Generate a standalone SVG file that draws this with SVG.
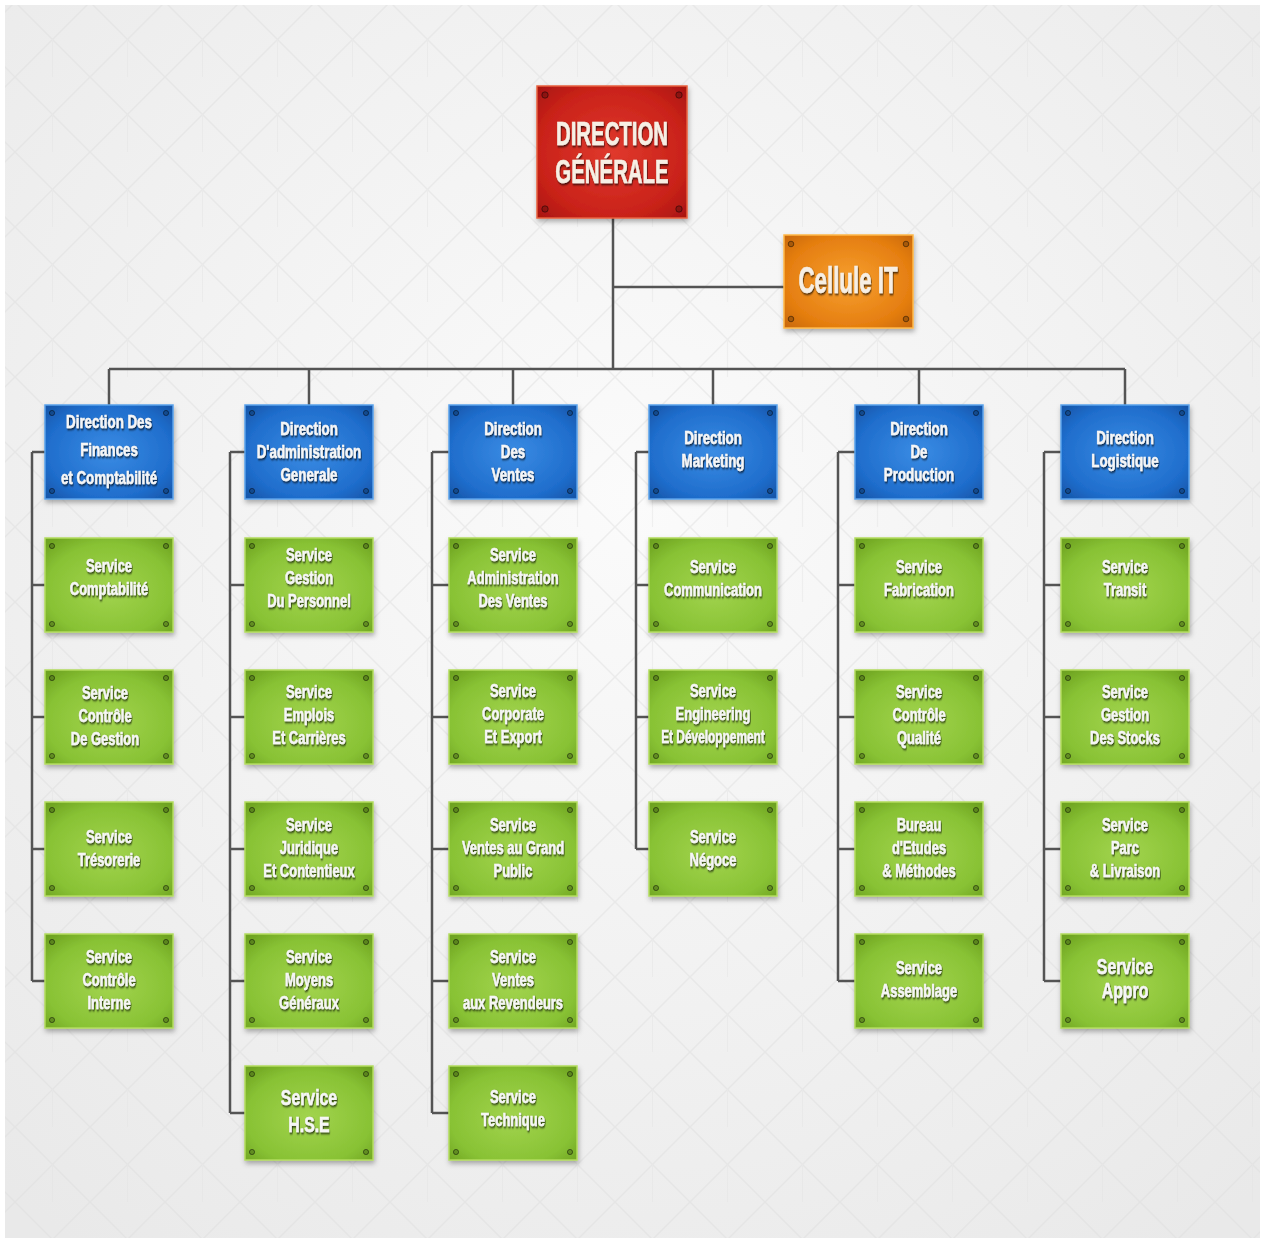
<svg xmlns="http://www.w3.org/2000/svg" xmlns:xlink="http://www.w3.org/1999/xlink" width="1265" height="1242" viewBox="0 0 1265 1242">
<defs>
<radialGradient id="bg" cx="50%" cy="40%" r="75%"><stop offset="0" stop-color="#fbfbfb"/><stop offset="1" stop-color="#e9e9e9"/></radialGradient>
<pattern id="lat" width="75" height="75" patternUnits="userSpaceOnUse" x="15" y="2">
<path d="M0 0L75 75M75 0L0 75" stroke="#dcdcdc" stroke-width="1.5" fill="none"/>
<path d="M37.5 37.5V75" stroke="#e2e2e2" stroke-width="1.2" fill="none"/>
</pattern>
<radialGradient id="gRed" cx="50%" cy="50%" r="70%"><stop offset="0" stop-color="#e0392d"/><stop offset="0.7" stop-color="#c92219"/><stop offset="1" stop-color="#a81510"/></radialGradient>
<radialGradient id="gOr" cx="50%" cy="50%" r="70%"><stop offset="0" stop-color="#f7a030"/><stop offset="0.7" stop-color="#e57e10"/><stop offset="1" stop-color="#c8680a"/></radialGradient>
<radialGradient id="gBlue" cx="50%" cy="50%" r="70%"><stop offset="0" stop-color="#3a8ce4"/><stop offset="0.7" stop-color="#1f6dcc"/><stop offset="1" stop-color="#1554a6"/></radialGradient>
<radialGradient id="gGreen" cx="50%" cy="55%" r="70%"><stop offset="0" stop-color="#a2d44e"/><stop offset="0.7" stop-color="#88c234"/><stop offset="1" stop-color="#6ea321"/></radialGradient>
<filter id="sh" x="-10%" y="-10%" width="125%" height="130%"><feDropShadow dx="1" dy="3" stdDeviation="2.5" flood-color="#000" flood-opacity="0.3"/></filter>
<filter id="ts" x="-10%" y="-30%" width="125%" height="170%"><feDropShadow dx="1" dy="1.5" stdDeviation="1" flood-color="#000" flood-opacity="0.8"/></filter>
<g id="scr"><circle cx="7" cy="8" r="2.6"/><circle cx="121" cy="8" r="2.6"/><circle cx="7" cy="86" r="2.6"/><circle cx="121" cy="86" r="2.6"/></g>
<style>
.nb{fill:url(#gBlue);stroke:#5aa2ec;stroke-width:1.5;filter:url(#sh)}
.ng{fill:url(#gGreen);stroke:#b2dc5e;stroke-width:1.5;filter:url(#sh)}
.sc{fill:rgba(0,0,0,0.22);stroke:rgba(0,0,0,0.45);stroke-width:1}
.t{font-family:"Liberation Sans",Arial,sans-serif;font-weight:bold;font-size:18px;fill:#f6f6f6;stroke:#f6f6f6;stroke-width:0.5;text-anchor:middle;filter:url(#ts)}
.tb{font-size:22px}
.tt{font-family:"Liberation Sans",Arial,sans-serif;font-weight:bold;fill:#f7efe4;stroke:#f7efe4;stroke-width:0.6;text-anchor:middle;filter:url(#ts)}
.ln{stroke:#545454;stroke-width:2.5;fill:none}
</style>
</defs>
<rect width="1265" height="1242" fill="#ffffff"/>
<rect x="5" y="5" width="1255" height="1233" fill="url(#bg)"/>
<rect x="5" y="5" width="1255" height="1233" fill="url(#lat)" opacity="0.45"/>

<g id="connectors" class="ln">
<path d="M613 218V369M613 287H784M109 369H1125"/>
<path d="M109 369V405M309 369V405M513 369V405M713 369V405M919 369V405M1125 369V405"/>
<path d="M32 452V981M32 452H45M32 585H45M32 717H45M32 849H45M32 981H45"/>
<path d="M230 452V1113M230 452H245M230 585H245M230 717H245M230 849H245M230 981H245M230 1113H245"/>
<path d="M432 452V1113M432 452H449M432 585H449M432 717H449M432 849H449M432 981H449M432 1113H449"/>
<path d="M636 452V849M636 452H649M636 585H649M636 717H649M636 849H649"/>
<path d="M838 452V981M838 452H855M838 585H855M838 717H855M838 849H855M838 981H855"/>
<path d="M1044 452V981M1044 452H1061M1044 585H1061M1044 717H1061M1044 849H1061M1044 981H1061"/>
</g>

<g id="direction-generale">
<rect x="537" y="86" width="150" height="132" fill="url(#gRed)" stroke="#e8603f" stroke-width="1.5" filter="url(#sh)"/>
<g class="sc"><circle cx="545" cy="95" r="3.2"/><circle cx="679" cy="95" r="3.2"/><circle cx="545" cy="209" r="3.2"/><circle cx="679" cy="209" r="3.2"/></g>
<text class="tt" font-size="34" transform="translate(612 145) scale(.6 1)">DIRECTION</text>
<text class="tt" font-size="34" transform="translate(612 183) scale(.6 1)">GÉNÉRALE</text>
</g>

<g id="cellule-it">
<rect x="784" y="235" width="129" height="93" fill="url(#gOr)" stroke="#ffb848" stroke-width="1.5" filter="url(#sh)"/>
<g class="sc"><circle cx="791" cy="244" r="2.8"/><circle cx="906" cy="244" r="2.8"/><circle cx="791" cy="319" r="2.8"/><circle cx="906" cy="319" r="2.8"/></g>
<text class="tt" font-size="36" transform="translate(848 293) scale(.62 1)">Cellule IT</text>
</g>

<g id="dir-finances">
<rect class="nb" x="45" y="405" width="128" height="94"/><use href="#scr" x="45" y="405" class="sc"/>
<text class="t" transform="translate(109 428) scale(.74 1)">Direction Des</text>
<text class="t" transform="translate(109 456) scale(.74 1)">Finances</text>
<text class="t" transform="translate(109 484) scale(.74 1)">et Comptabilité</text>
</g>
<g id="dir-administration">
<rect class="nb" x="245" y="405" width="128" height="94"/><use href="#scr" x="245" y="405" class="sc"/>
<text class="t" transform="translate(309 435) scale(.74 1)">Direction</text>
<text class="t" transform="translate(309 458) scale(.74 1)">D'administration</text>
<text class="t" transform="translate(309 481) scale(.74 1)">Generale</text>
</g>
<g id="dir-ventes">
<rect class="nb" x="449" y="405" width="128" height="94"/><use href="#scr" x="449" y="405" class="sc"/>
<text class="t" transform="translate(513 435) scale(.74 1)">Direction</text>
<text class="t" transform="translate(513 458) scale(.74 1)">Des</text>
<text class="t" transform="translate(513 481) scale(.74 1)">Ventes</text>
</g>
<g id="dir-marketing">
<rect class="nb" x="649" y="405" width="128" height="94"/><use href="#scr" x="649" y="405" class="sc"/>
<text class="t" transform="translate(713 444) scale(.74 1)">Direction</text>
<text class="t" transform="translate(713 467) scale(.74 1)">Marketing</text>
</g>
<g id="dir-production">
<rect class="nb" x="855" y="405" width="128" height="94"/><use href="#scr" x="855" y="405" class="sc"/>
<text class="t" transform="translate(919 435) scale(.74 1)">Direction</text>
<text class="t" transform="translate(919 458) scale(.74 1)">De</text>
<text class="t" transform="translate(919 481) scale(.74 1)">Production</text>
</g>
<g id="dir-logistique">
<rect class="nb" x="1061" y="405" width="128" height="94"/><use href="#scr" x="1061" y="405" class="sc"/>
<text class="t" transform="translate(1125 444) scale(.74 1)">Direction</text>
<text class="t" transform="translate(1125 467) scale(.74 1)">Logistique</text>
</g>

<!-- column 1 -->
<g id="srv-comptabilite">
<rect class="ng" x="45" y="538" width="128" height="94"/><use href="#scr" x="45" y="538" class="sc"/>
<text class="t" transform="translate(109 572) scale(.72 1)">Service</text>
<text class="t" transform="translate(109 595) scale(.72 1)">Comptabilité</text>
</g>
<g id="srv-controle-gestion">
<rect class="ng" x="45" y="670" width="128" height="94"/><use href="#scr" x="45" y="670" class="sc"/>
<text class="t" transform="translate(105 699) scale(.72 1)">Service</text>
<text class="t" transform="translate(105 722) scale(.72 1)">Contrôle</text>
<text class="t" transform="translate(105 745) scale(.72 1)">De Gestion</text>
</g>
<g id="srv-tresorerie">
<rect class="ng" x="45" y="802" width="128" height="94"/><use href="#scr" x="45" y="802" class="sc"/>
<text class="t" transform="translate(109 843) scale(.72 1)">Service</text>
<text class="t" transform="translate(109 866) scale(.72 1)">Trésorerie</text>
</g>
<g id="srv-controle-interne">
<rect class="ng" x="45" y="934" width="128" height="94"/><use href="#scr" x="45" y="934" class="sc"/>
<text class="t" transform="translate(109 963) scale(.72 1)">Service</text>
<text class="t" transform="translate(109 986) scale(.72 1)">Contrôle</text>
<text class="t" transform="translate(109 1009) scale(.72 1)">Interne</text>
</g>

<!-- column 2 -->
<g id="srv-gestion-personnel">
<rect class="ng" x="245" y="538" width="128" height="94"/><use href="#scr" x="245" y="538" class="sc"/>
<text class="t" transform="translate(309 561) scale(.72 1)">Service</text>
<text class="t" transform="translate(309 584) scale(.72 1)">Gestion</text>
<text class="t" transform="translate(309 607) scale(.72 1)">Du Personnel</text>
</g>
<g id="srv-emplois">
<rect class="ng" x="245" y="670" width="128" height="94"/><use href="#scr" x="245" y="670" class="sc"/>
<text class="t" transform="translate(309 698) scale(.72 1)">Service</text>
<text class="t" transform="translate(309 721) scale(.72 1)">Emplois</text>
<text class="t" transform="translate(309 744) scale(.72 1)">Et Carrières</text>
</g>
<g id="srv-juridique">
<rect class="ng" x="245" y="802" width="128" height="94"/><use href="#scr" x="245" y="802" class="sc"/>
<text class="t" transform="translate(309 831) scale(.72 1)">Service</text>
<text class="t" transform="translate(309 854) scale(.72 1)">Juridique</text>
<text class="t" transform="translate(309 877) scale(.72 1)">Et Contentieux</text>
</g>
<g id="srv-moyens-generaux">
<rect class="ng" x="245" y="934" width="128" height="94"/><use href="#scr" x="245" y="934" class="sc"/>
<text class="t" transform="translate(309 963) scale(.72 1)">Service</text>
<text class="t" transform="translate(309 986) scale(.72 1)">Moyens</text>
<text class="t" transform="translate(309 1009) scale(.72 1)">Généraux</text>
</g>
<g id="srv-hse">
<rect class="ng" x="245" y="1066" width="128" height="94"/><use href="#scr" x="245" y="1066" class="sc"/>
<text class="t tb" transform="translate(309 1105) scale(.72 1)">Service</text>
<text class="t tb" transform="translate(309 1132) scale(.72 1)">H.S.E</text>
</g>

<!-- column 3 -->
<g id="srv-admin-ventes">
<rect class="ng" x="449" y="538" width="128" height="94"/><use href="#scr" x="449" y="538" class="sc"/>
<text class="t" transform="translate(513 561) scale(.72 1)">Service</text>
<text class="t" transform="translate(513 584) scale(.72 1)">Administration</text>
<text class="t" transform="translate(513 607) scale(.72 1)">Des Ventes</text>
</g>
<g id="srv-corporate">
<rect class="ng" x="449" y="670" width="128" height="94"/><use href="#scr" x="449" y="670" class="sc"/>
<text class="t" transform="translate(513 697) scale(.72 1)">Service</text>
<text class="t" transform="translate(513 720) scale(.72 1)">Corporate</text>
<text class="t" transform="translate(513 743) scale(.72 1)">Et Export</text>
</g>
<g id="srv-grand-public">
<rect class="ng" x="449" y="802" width="128" height="94"/><use href="#scr" x="449" y="802" class="sc"/>
<text class="t" transform="translate(513 831) scale(.72 1)">Service</text>
<text class="t" transform="translate(513 854) scale(.72 1)">Ventes au Grand</text>
<text class="t" transform="translate(513 877) scale(.72 1)">Public</text>
</g>
<g id="srv-revendeurs">
<rect class="ng" x="449" y="934" width="128" height="94"/><use href="#scr" x="449" y="934" class="sc"/>
<text class="t" transform="translate(513 963) scale(.72 1)">Service</text>
<text class="t" transform="translate(513 986) scale(.72 1)">Ventes</text>
<text class="t" transform="translate(513 1009) scale(.72 1)">aux Revendeurs</text>
</g>
<g id="srv-technique">
<rect class="ng" x="449" y="1066" width="128" height="94"/><use href="#scr" x="449" y="1066" class="sc"/>
<text class="t" transform="translate(513 1103) scale(.72 1)">Service</text>
<text class="t" transform="translate(513 1126) scale(.72 1)">Technique</text>
</g>

<!-- column 4 -->
<g id="srv-communication">
<rect class="ng" x="649" y="538" width="128" height="94"/><use href="#scr" x="649" y="538" class="sc"/>
<text class="t" transform="translate(713 573) scale(.72 1)">Service</text>
<text class="t" transform="translate(713 596) scale(.72 1)">Communication</text>
</g>
<g id="srv-engineering">
<rect class="ng" x="649" y="670" width="128" height="94"/><use href="#scr" x="649" y="670" class="sc"/>
<text class="t" transform="translate(713 697) scale(.72 1)">Service</text>
<text class="t" transform="translate(713 720) scale(.72 1)">Engineering</text>
<text class="t" transform="translate(713 743) scale(.66 1)">Et Développement</text>
</g>
<g id="srv-negoce">
<rect class="ng" x="649" y="802" width="128" height="94"/><use href="#scr" x="649" y="802" class="sc"/>
<text class="t" transform="translate(713 843) scale(.72 1)">Service</text>
<text class="t" transform="translate(713 866) scale(.72 1)">Négoce</text>
</g>

<!-- column 5 -->
<g id="srv-fabrication">
<rect class="ng" x="855" y="538" width="128" height="94"/><use href="#scr" x="855" y="538" class="sc"/>
<text class="t" transform="translate(919 573) scale(.72 1)">Service</text>
<text class="t" transform="translate(919 596) scale(.72 1)">Fabrication</text>
</g>
<g id="srv-controle-qualite">
<rect class="ng" x="855" y="670" width="128" height="94"/><use href="#scr" x="855" y="670" class="sc"/>
<text class="t" transform="translate(919 698) scale(.72 1)">Service</text>
<text class="t" transform="translate(919 721) scale(.72 1)">Contrôle</text>
<text class="t" transform="translate(919 744) scale(.72 1)">Qualité</text>
</g>
<g id="bureau-etudes">
<rect class="ng" x="855" y="802" width="128" height="94"/><use href="#scr" x="855" y="802" class="sc"/>
<text class="t" transform="translate(919 831) scale(.72 1)">Bureau</text>
<text class="t" transform="translate(919 854) scale(.72 1)">d'Etudes</text>
<text class="t" transform="translate(919 877) scale(.72 1)">&amp; Méthodes</text>
</g>
<g id="srv-assemblage">
<rect class="ng" x="855" y="934" width="128" height="94"/><use href="#scr" x="855" y="934" class="sc"/>
<text class="t" transform="translate(919 974) scale(.72 1)">Service</text>
<text class="t" transform="translate(919 997) scale(.72 1)">Assemblage</text>
</g>

<!-- column 6 -->
<g id="srv-transit">
<rect class="ng" x="1061" y="538" width="128" height="94"/><use href="#scr" x="1061" y="538" class="sc"/>
<text class="t" transform="translate(1125 573) scale(.72 1)">Service</text>
<text class="t" transform="translate(1125 596) scale(.72 1)">Transit</text>
</g>
<g id="srv-gestion-stocks">
<rect class="ng" x="1061" y="670" width="128" height="94"/><use href="#scr" x="1061" y="670" class="sc"/>
<text class="t" transform="translate(1125 698) scale(.72 1)">Service</text>
<text class="t" transform="translate(1125 721) scale(.72 1)">Gestion</text>
<text class="t" transform="translate(1125 744) scale(.72 1)">Des Stocks</text>
</g>
<g id="srv-parc-livraison">
<rect class="ng" x="1061" y="802" width="128" height="94"/><use href="#scr" x="1061" y="802" class="sc"/>
<text class="t" transform="translate(1125 831) scale(.72 1)">Service</text>
<text class="t" transform="translate(1125 854) scale(.72 1)">Parc</text>
<text class="t" transform="translate(1125 877) scale(.72 1)">&amp; Livraison</text>
</g>
<g id="srv-appro">
<rect class="ng" x="1061" y="934" width="128" height="94"/><use href="#scr" x="1061" y="934" class="sc"/>
<text class="t tb" transform="translate(1125 974) scale(.72 1)">Service</text>
<text class="t tb" transform="translate(1125 998) scale(.72 1)">Appro</text>
</g>
</svg>
